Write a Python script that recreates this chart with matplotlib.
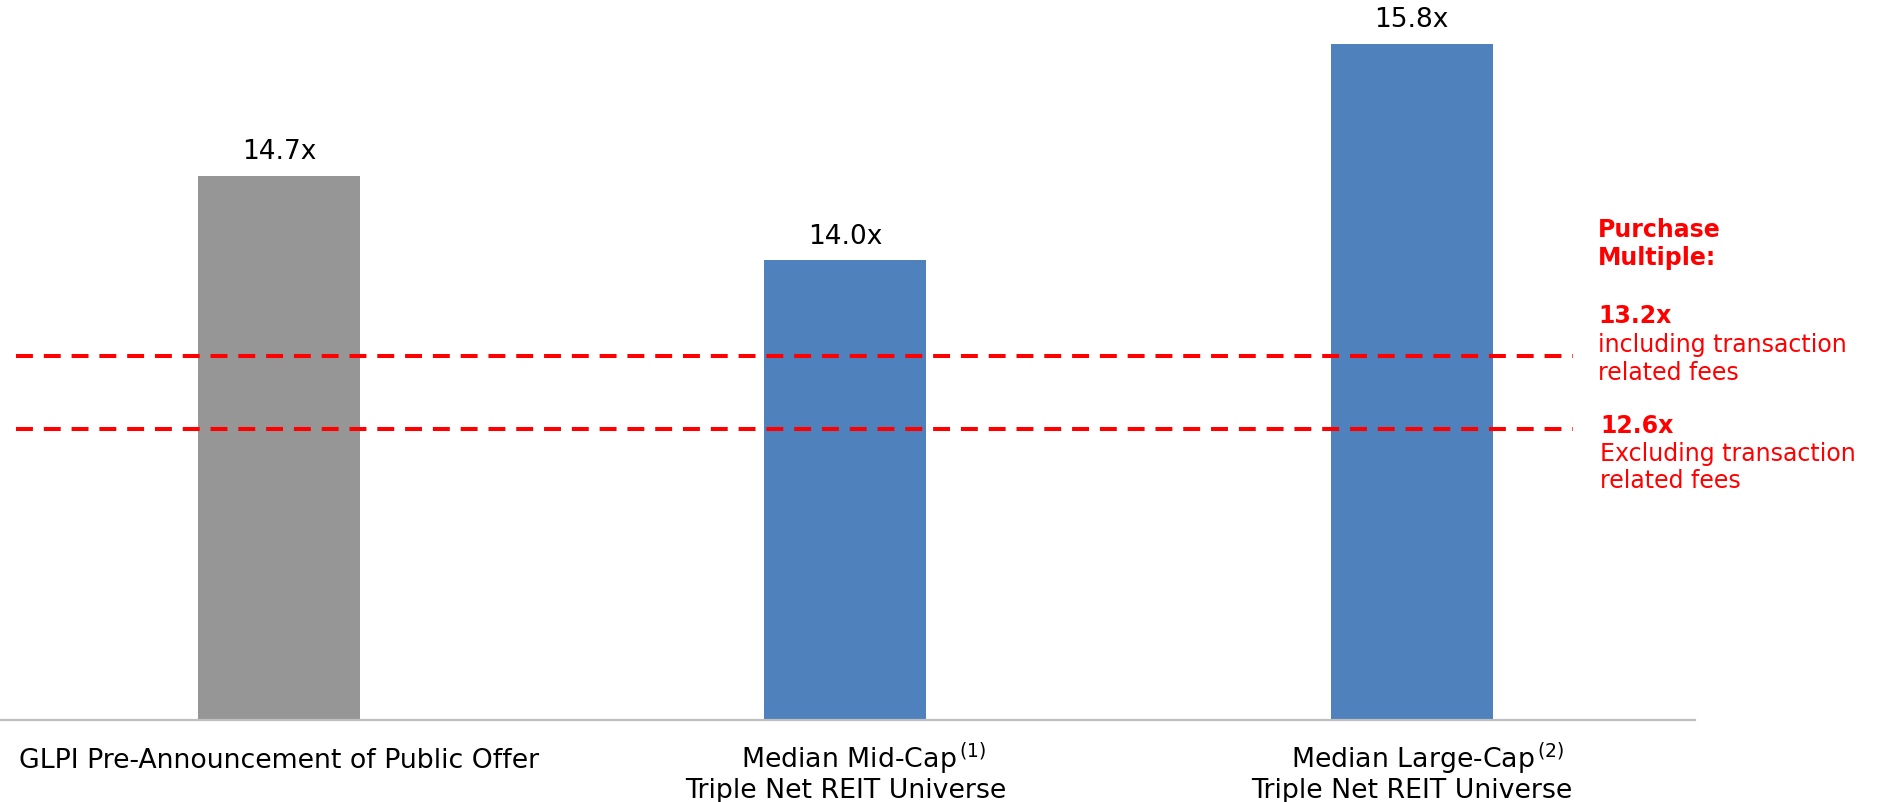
import matplotlib
matplotlib.use("Agg")
import matplotlib.pyplot as plt

# chart data
categories = ["GLPI Pre-Announcement of Public Offer",
              "Median Mid-Cap$^{\\,(1)}$",
              "Median Large-Cap$^{\\,(2)}$"]
second_lines = ["", "Triple Net REIT Universe", "Triple Net REIT Universe"]
multiples = [14.7, 14.0, 15.8]
value_labels = ["14.7x", "14.0x", "15.8x"]
bar_colors = ["#969696", "#4F81BD", "#4F81BD"]

purchase_multiples = [13.2, 12.6]
purchase_labels = ["13.2x", "12.6x"]
purchase_notes = [["including transaction", "related fees"],
                  ["Excluding transaction", "related fees"]]

RED = "#FF0000"
W, H = 1878, 803

plt.rcParams['font.family'] = ['DejaVu Sans']
plt.rcParams['mathtext.default'] = 'regular'

fig = plt.figure(figsize=(W / 100, H / 100), dpi=100)
ax = fig.add_axes([0, 82.3 / H, 1695 / W, 720.7 / H])

x = list(range(len(multiples)))
ax.bar(x, multiples, width=0.286, color=bar_colors, zorder=1)
ax.set_xlim(-0.4925, 2.5)
ax.set_ylim(10.18, 16.17)

for xi, v, lab in zip(x, multiples, value_labels):
    ax.annotate(lab, (xi, v), xytext=(0, 12.6), textcoords="offset points",
                ha="center", va="baseline", fontsize=19, color="black")

# dashed purchase multiple lines
for v in purchase_multiples:
    ax.axhline(v, xmin=16 / 1695, xmax=1573 / 1695, color=RED, lw=2.9,
               dashes=(4.2, 2.7), zorder=3)

# axis styling
for s in ["top", "right", "left"]:
    ax.spines[s].set_visible(False)
ax.spines["bottom"].set_color("#BFBFBF")
ax.spines["bottom"].set_linewidth(1.6)
ax.set_yticks([])
ax.set_xticks([])

# category labels (two lines)
line1_off = [0.0, 18 / 566.5, 16 / 566.5]
tr = ax.get_xaxis_transform()
for xi, l1, l2, o1 in zip(x, categories, second_lines, line1_off):
    ax.text(xi + o1, -47.3 / 720.7, l1, transform=tr, ha="center",
            va="baseline", fontsize=19.3, clip_on=False)
    if l2:
        ax.text(xi, -77.3 / 720.7, l2, transform=tr, ha="center",
                va="baseline", fontsize=19.3, clip_on=False)

# red annotation block on the right
def ftext(px, py, s, bold=False):
    fig.text(px / W, 1 - py / H, s, ha="left", va="baseline", fontsize=17,
             color=RED, fontweight="bold" if bold else "normal")

ftext(1598, 236.7, "Purchase", bold=True)
ftext(1598, 265, "Multiple:", bold=True)
ftext(1598, 322.7, purchase_labels[0], bold=True)
ftext(1598, 351.7, purchase_notes[0][0])
ftext(1598, 380, purchase_notes[0][1])
ftext(1600, 432.7, purchase_labels[1], bold=True)
ftext(1600, 460.7, purchase_notes[1][0])
ftext(1600, 488.3, purchase_notes[1][1])

fig.savefig("out.png", dpi=100)
